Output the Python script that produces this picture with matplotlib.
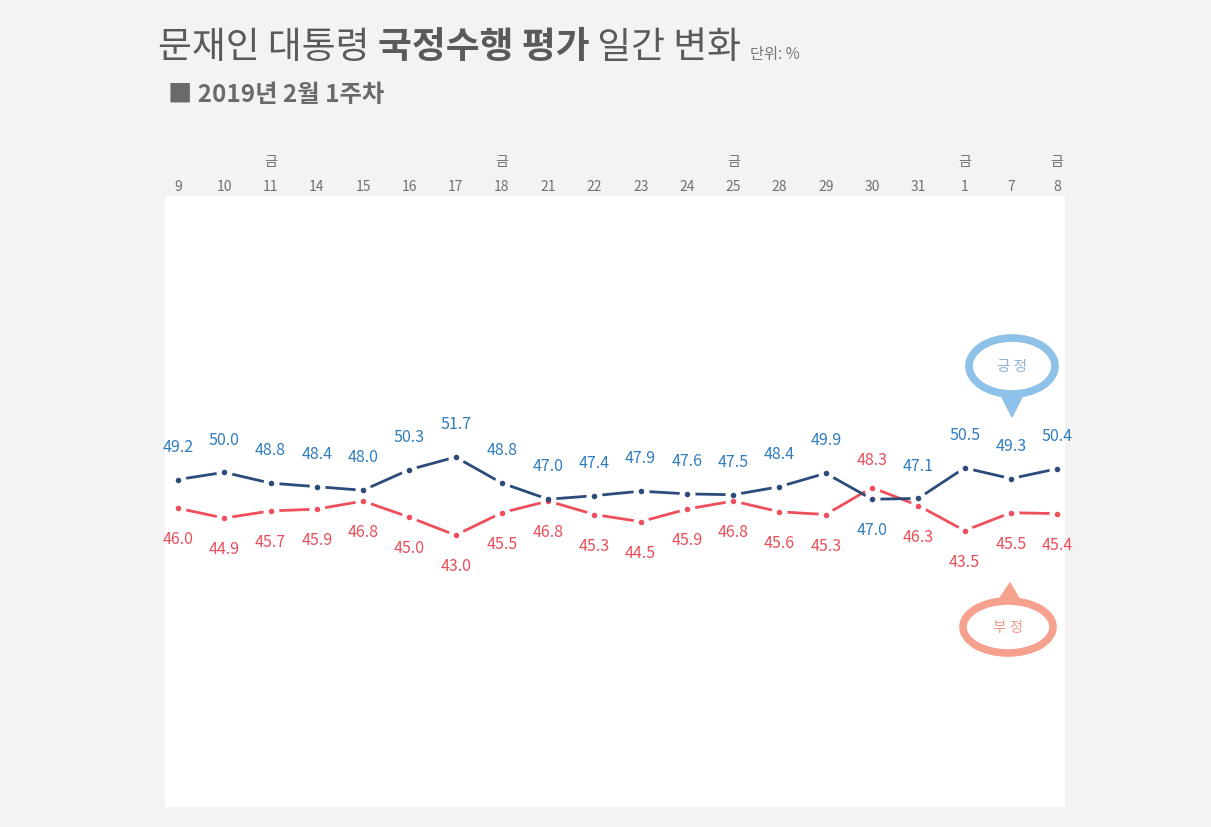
import matplotlib
matplotlib.use("Agg")
import matplotlib.pyplot as plt
from matplotlib.patches import Ellipse, Polygon
from matplotlib.transforms import blended_transform_factory

plt.rcParams['font.family'] = ['Noto Sans CJK KR', 'DejaVu Sans']

days = ['9', '10', '11', '14', '15', '16', '17', '18', '21', '22', '23', '24',
        '25', '28', '29', '30', '31', '1', '7', '8']
friday_idx = [2, 7, 12, 17, 19]
positive = [49.2, 50.0, 48.8, 48.4, 48.0, 50.3, 51.7, 48.8, 47.0, 47.4, 47.9, 47.6,
            47.5, 48.4, 49.9, 47.0, 47.1, 50.5, 49.3, 50.4]
negative = [46.0, 44.9, 45.7, 45.9, 46.8, 45.0, 43.0, 45.5, 46.8, 45.3, 44.5, 45.9,
            46.8, 45.6, 45.3, 48.3, 46.3, 43.5, 45.5, 45.4]
# label placement: +1 above the point, -1 below
pos_side = [1] * 20
neg_side = [-1] * 20
pos_side[15] = -1
neg_side[15] = 1

W, H = 1211, 828
fig = plt.figure(figsize=(W / 100, H / 100), dpi=100)
fig.patch.set_facecolor('#f3f3f3')

def fx(px):
    return px / W

def fy(py):
    return 1 - py / H

ax = fig.add_axes([fx(165), fy(808), (1065 - 165) / W, (808 - 197) / H])
ax.set_facecolor('white')
for s in ax.spines.values():
    s.set_visible(False)
ax.set_xticks([])
ax.set_yticks([])
ax.set_xlim(-0.28, 19.17)
ax.set_ylim(12.7, 80.8)

x = list(range(len(days)))
navy = '#2d4b7a'
red = '#ef4f5c'
blue_lbl = '#2f7dbf'
red_lbl = '#e84e5a'

ax.plot(x, negative, color=red, lw=2.0, zorder=2)
ax.plot(x, positive, color=navy, lw=2.0, zorder=2.5)
ax.plot(x, negative, 'o', ms=11.5, color='white', mew=0, zorder=3)
ax.plot(x, positive, 'o', ms=11.5, color='white', mew=0, zorder=3)
ax.plot(x, negative, 'o', ms=4.0, color=red, mew=0, zorder=4)
ax.plot(x, positive, 'o', ms=4.0, color=navy, mew=0, zorder=4)

for i in x:
    ax.annotate(f'{positive[i]:.1f}', (i, positive[i]),
                xytext=(0, 24 if pos_side[i] > 0 else -22), textcoords='offset points',
                ha='center', va='center', fontsize=11.5, color=blue_lbl, zorder=5)
    ax.annotate(f'{negative[i]:.1f}', (i, negative[i]),
                xytext=(0, -22 if neg_side[i] < 0 else 20), textcoords='offset points',
                ha='center', va='center', fontsize=11.5, color=red_lbl, zorder=5)

trans = blended_transform_factory(ax.transData, ax.transAxes)
for i, d in enumerate(days):
    ax.text(i, 1 + 10 / 611, d, transform=trans, ha='center', va='center',
            fontsize=10, color='#707070')
for i in friday_idx:
    ax.text(i, 1 + 35 / 611, '금', transform=trans, ha='center', va='center',
            fontsize=10, color='#707070')

# title
renderer = fig.canvas.get_renderer()
parts = [('문재인 대통령 ', 'normal', 26.5), ('국정수행 평가', 'bold', 26.5),
         (' 일간 변화 ', 'normal', 26.5)]
cur = fx(158)
for txt, wt, sz in parts:
    t = fig.text(cur, fy(58), txt, fontsize=sz, fontweight=wt, color='#5a5a5a',
                 va='baseline', ha='left')
    bb = t.get_window_extent(renderer=renderer)
    cur += bb.width / W
fig.text(cur, fy(59), '단위: %', fontsize=11, color='#777777', va='baseline', ha='left')

fig.text(fx(168), fy(102), '■ 2019년 2월 1주차', fontsize=17.5, fontweight='bold',
         color='#6a6a6a', va='baseline', ha='left')

# speech bubbles
def bubble(cx, cy, w, h, tail, color, label, tcolor):
    e = Ellipse((fx(cx), fy(cy)), w / W, h / H, transform=fig.transFigure,
                facecolor='white', edgecolor=color, lw=5.5, zorder=6)
    fig.add_artist(e)
    p = Polygon([(fx(a), fy(b)) for a, b in tail], closed=True,
                transform=fig.transFigure, facecolor=color, edgecolor=color,
                lw=1, zorder=5.5)
    fig.add_artist(p)
    fig.text(fx(cx), fy(cy), label, ha='center', va='center', fontsize=10.5,
             color=tcolor, zorder=7)

bubble(1012, 367, 86, 56, [(998, 390), (1026, 390), (1012, 418)],
       '#8ec1e7', '긍 정', '#8fb3d6')
bubble(1008, 628, 90, 52, [(994, 608), (1024, 608), (1010, 584)],
       '#f6a18d', '부 정', '#f39b8a')

fig.savefig('out.png', dpi=100, facecolor=fig.get_facecolor())
